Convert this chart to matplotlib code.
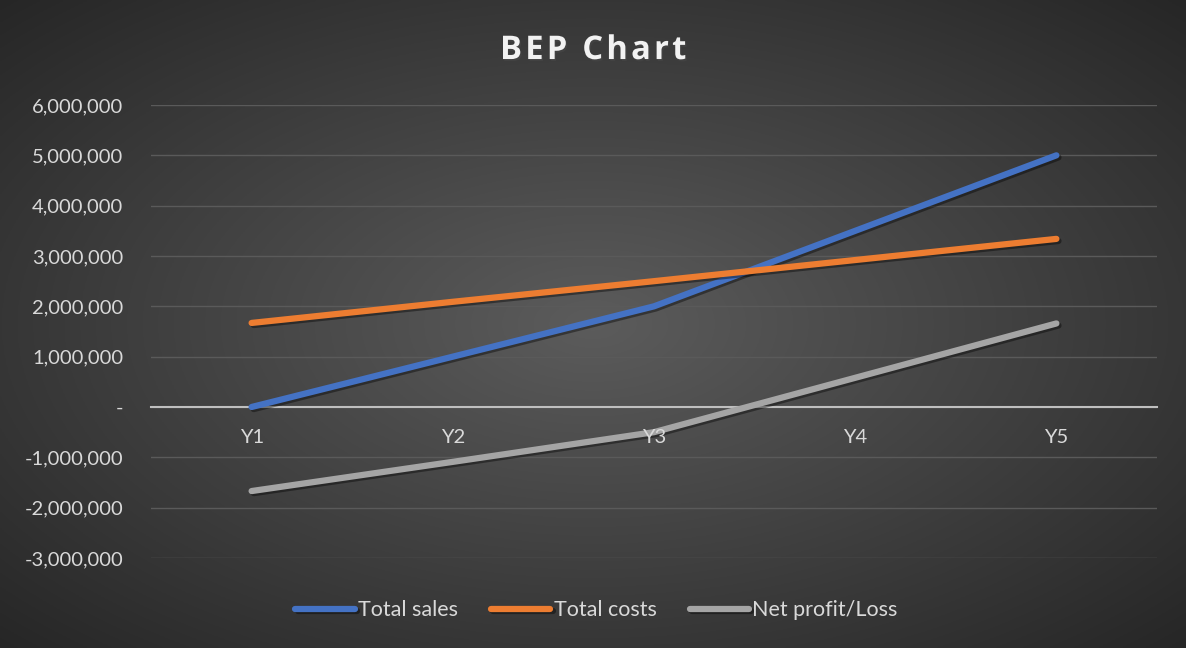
import numpy as np
import matplotlib
matplotlib.use('Agg')
from matplotlib import pyplot as plt
from matplotlib import patheffects as pe
from matplotlib.ticker import FuncFormatter

years = ['Y1', 'Y2', 'Y3', 'Y4', 'Y5']
total_sales = [0, 1000000, 2000000, 3500000, 5000000]
total_costs = [1670000, 2090000, 2500000, 2920000, 3340000]
net_profit = [-1670000, -1090000, -500000, 580000, 1660000]

plt.rcParams['font.family'] = ['Lato', 'DejaVu Sans']

fig = plt.figure(figsize=(11.86, 6.48), dpi=100)

# radial background gradient
bg = fig.add_axes([0, 0, 1, 1], zorder=-10)
gx, gy = np.meshgrid(np.linspace(-1, 1, 600), np.linspace(-1, 1, 330))
r = np.sqrt(gx ** 2 + gy ** 2) / np.sqrt(2)
shade = 0.36 - 0.21 * r
bg.imshow(np.dstack([shade, shade, shade]), aspect='auto', extent=[0, 1, 0, 1])
bg.axis('off')

ax = fig.add_axes([151 / 1186, 90 / 648, 1006 / 1186, 453 / 648])
ax.patch.set_alpha(0)

x = np.arange(1, 6)
shadow = [pe.SimpleLineShadow(offset=(1.5, -1.5), alpha=0.4), pe.Normal()]
ax.plot(x, total_sales, color='#4472c4', lw=4.5, solid_capstyle='round',
        label='Total sales', path_effects=shadow, zorder=3)
ax.plot(x, total_costs, color='#ed7d31', lw=4.5, solid_capstyle='round',
        label='Total costs', path_effects=shadow, zorder=3)
ax.plot(x, net_profit, color='#a5a5a5', lw=4.5, solid_capstyle='round',
        label='Net profit/Loss', path_effects=shadow, zorder=3)

ax.set_xlim(0.5, 5.5)
ax.set_ylim(-3000000, 6000000)
ax.set_yticks(np.arange(-3000000, 6000001, 1000000))
ax.yaxis.set_major_formatter(FuncFormatter(lambda v, p: '-' if v == 0 else '{:,.0f}'.format(v)))
ax.set_xticks(x)
ax.set_xticklabels([])
ax.grid(axis='y', color='#5a5a5a', lw=1)
ax.set_axisbelow(True)

# category labels drawn on top of the lines
for xi, lab in zip(x, years):
    ax.annotate(lab, (xi, 0), xytext=(0, -22), textcoords='offset points',
                ha='center', va='center', color='#d9d9d9', fontsize=14.5, zorder=5)

for s in ['top', 'right', 'left']:
    ax.spines[s].set_visible(False)
ax.spines['bottom'].set_position(('data', 0))
ax.spines['bottom'].set_color('#bfbfbf')
ax.spines['bottom'].set_linewidth(1.5)
ax.tick_params(axis='both', length=0, colors='#d9d9d9', labelsize=14.5)
ax.tick_params(axis='y', pad=20)

title = '\u200a'.join('BEP Chart')
fig.text(0.5, 0.922, title, ha='center', va='center', color='#f2f2f2',
         fontsize=23.5, fontweight='bold', family=['Open Sans', 'DejaVu Sans'],
         path_effects=[pe.withSimplePatchShadow(offset=(1, -1.5), alpha=0.5)])

leg = fig.legend(loc='center', bbox_to_anchor=(0.503, 0.058), ncol=3, frameon=False,
                 fontsize=15.5, handlelength=2.75, handletextpad=0.15, columnspacing=1.55)
for t in leg.get_texts():
    t.set_color('#d9d9d9')

fig.savefig('out.png', dpi=100)
